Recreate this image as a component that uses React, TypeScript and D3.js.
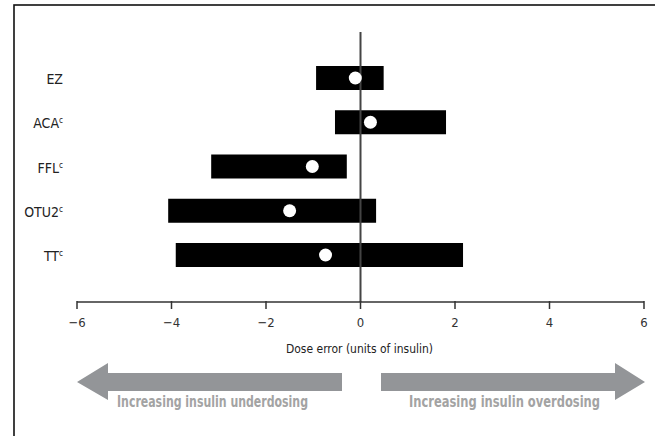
import React from "react";
import * as d3 from "d3";

const categories = ["EZ", "ACA", "FFL", "OTU2", "TT"];
const superscripts = ["", "c", "c", "c", "c"];
const lowValues = [-0.94, -0.54, -3.16, -4.07, -3.91];
const highValues = [0.49, 1.81, -0.29, 0.33, 2.17];
const meanValues = [-0.11, 0.21, -1.02, -1.5, -0.74];
const xTicks = [-6, -4, -2, 0, 2, 4, 6];
const xTitle = "Dose error (units of insulin)";
const leftArrowLabel = "Increasing insulin underdosing";
const rightArrowLabel = "Increasing insulin overdosing";

const W = 655;
const H = 436;
const FONT = "'Liberation Sans Narrow', 'Arial Narrow', 'DejaVu Sans Condensed', sans-serif";

export default function App() {
  const x = d3.scaleLinear().domain([-6, 6]).range([77, 644]);
  const y = d3.scalePoint<string>().domain(categories).range([78, 255]);
  const barH = 24;
  const axisY = 302;
  const fmt = (v: number) => (v < 0 ? "\u2212" + Math.abs(v) : String(v));

  // arrows
  const arrowGray = "#939598";
  const shaftTop = 373;
  const shaftBot = 391;
  const headTop = 363;
  const headBot = 400;
  const midY = (shaftTop + shaftBot) / 2;
  const leftArrow = d3.path();
  leftArrow.moveTo(77, midY);
  leftArrow.lineTo(108, headTop);
  leftArrow.lineTo(108, shaftTop);
  leftArrow.lineTo(342, shaftTop);
  leftArrow.lineTo(342, shaftBot);
  leftArrow.lineTo(108, shaftBot);
  leftArrow.lineTo(108, headBot);
  leftArrow.closePath();
  const rightArrow = d3.path();
  rightArrow.moveTo(645, midY);
  rightArrow.lineTo(615, headTop);
  rightArrow.lineTo(615, shaftTop);
  rightArrow.lineTo(381, shaftTop);
  rightArrow.lineTo(381, shaftBot);
  rightArrow.lineTo(615, shaftBot);
  rightArrow.lineTo(615, headBot);
  rightArrow.closePath();

  return (
    <svg
      width={W}
      height={H}
      style={{ position: "absolute", left: 0, top: 0, background: "#fff" }}
      fontFamily={FONT}
    >
      <rect x={14} y={5} width={W + 20} height={H + 20} fill="#fff" stroke="#111" strokeWidth={1.6} />

      {/* bars */}
      {categories.map((c, i) => (
        <rect
          key={"b" + c}
          x={x(lowValues[i])}
          y={(y(c) as number) - barH / 2}
          width={x(highValues[i]) - x(lowValues[i])}
          height={barH}
          fill="#000"
        />
      ))}

      {/* zero line */}
      <line x1={x(0)} x2={x(0)} y1={32} y2={axisY} stroke="#444" strokeWidth={2} />

      {/* points */}
      {categories.map((c, i) => (
        <circle key={"p" + c} cx={x(meanValues[i])} cy={y(c) as number} r={6.5} fill="#fff" />
      ))}

      {/* category labels */}
      {categories.map((c, i) => (
        <text
          key={"l" + c}
          x={63}
          y={(y(c) as number) + 6}
          textAnchor="end"
          fontSize={14}
          fill="#222"
        >
          {c}
          {superscripts[i] ? (
            <tspan fontSize={8} dy={-5}>
              {superscripts[i]}
            </tspan>
          ) : null}
        </text>
      ))}

      {/* x axis */}
      <line x1={x(-6)} x2={x(6)} y1={axisY} y2={axisY} stroke="#333" strokeWidth={1.6} />
      {xTicks.map((t) => (
        <g key={"t" + t}>
          <line x1={x(t)} x2={x(t)} y1={axisY - 1} y2={axisY + 7} stroke="#333" strokeWidth={1.5} />
          <text x={x(t)} y={axisY + 25} textAnchor="middle" fontSize={13} fill="#333">
            {fmt(t)}
          </text>
        </g>
      ))}
      <text
        x={286}
        y={axisY + 51}
        fontSize={13}
        fill="#222"
        textLength={147}
        lengthAdjust="spacingAndGlyphs"
      >
        {xTitle}
      </text>

      {/* arrows */}
      <path d={leftArrow.toString()} fill={arrowGray} />
      <path d={rightArrow.toString()} fill={arrowGray} />
      <text
        x={117}
        y={407}
        fontSize={15}
        fontWeight="bold"
        fill="#a3a3a3"
        textLength={191}
        lengthAdjust="spacingAndGlyphs"
      >
        {leftArrowLabel}
      </text>
      <text
        x={409}
        y={407}
        fontSize={15}
        fontWeight="bold"
        fill="#a3a3a3"
        textLength={191}
        lengthAdjust="spacingAndGlyphs"
      >
        {rightArrowLabel}
      </text>
    </svg>
  );
}
